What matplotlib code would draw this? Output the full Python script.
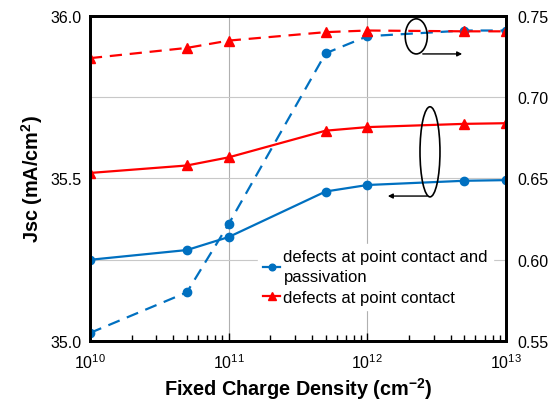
import numpy as np
import matplotlib
matplotlib.use("Agg")
import matplotlib.pyplot as plt
from matplotlib.patches import Ellipse
from matplotlib.ticker import LogLocator, NullFormatter, FormatStrFormatter

plt.rcParams['font.family'] = ['Liberation Sans', 'DejaVu Sans']
plt.rcParams['mathtext.fontset'] = 'custom'
plt.rcParams['mathtext.rm'] = 'Liberation Sans'
plt.rcParams['mathtext.bf'] = 'Liberation Sans:bold'

# fixed charge density (cm^-2)
charge = [1e10, 5e10, 1e11, 5e11, 1e12, 5e12, 1e13]

# Jsc, left axis (solid)
jsc_both = [35.25, 35.28, 35.32, 35.46, 35.48, 35.493, 35.495]
jsc_point = [35.517, 35.54, 35.565, 35.647, 35.658, 35.668, 35.67]

# right axis (dashed)
right_both = [0.555, 0.580, 0.622, 0.727, 0.7375, 0.741, 0.741]
right_point = [0.724, 0.7303, 0.7348, 0.740, 0.741, 0.7405, 0.7405]

label_both = 'defects at point contact and\npassivation'
label_point = 'defects at point contact'

blue = '#0070C0'
red = '#FF0000'

fig = plt.figure(figsize=(5.55, 4.02), dpi=100)
ax = fig.add_axes([0.162, 0.149, 0.750, 0.809])
ax2 = ax.twinx()

l1, = ax.plot(charge, jsc_both, '-o', color=blue, lw=1.6, ms=6, label=label_both)
l2, = ax.plot(charge, jsc_point, '-^', color=red, lw=1.6, ms=6.5, label=label_point)
ax2.plot(charge, right_both, '--o', color=blue, lw=1.6, ms=6, dashes=(5.5, 3.5))
ax2.plot(charge, right_point, '--^', color=red, lw=1.6, ms=6.5, dashes=(5.5, 3.5))

ax.set_xscale('log')
ax.set_xlim(1e10, 1e13)
ax.set_ylim(35.0, 36.0)
ax2.set_ylim(0.55, 0.75)

ax.set_yticks([35.0, 35.5, 36.0])
ax.set_yticks([35.25, 35.75], minor=True)
ax.yaxis.set_major_formatter(FormatStrFormatter('%.1f'))
ax2.set_yticks([0.55, 0.60, 0.65, 0.70, 0.75])
ax2.yaxis.set_major_formatter(FormatStrFormatter('%.2f'))

ax.xaxis.set_minor_locator(LogLocator(base=10, subs=np.arange(2, 10), numticks=20))
ax.xaxis.set_minor_formatter(NullFormatter())

ax.grid(True, which='major', axis='x', color='#b0b0b0', lw=0.8)
ax.grid(True, which='both', axis='y', color='#c8c8c8', lw=0.8)
ax.set_axisbelow(True)

ax.tick_params(axis='x', which='both', direction='in', top=False, labelsize=11.5, pad=8)
ax.tick_params(axis='x', which='major', length=6, width=1)
ax.tick_params(axis='x', which='minor', length=4, width=1)
ax.tick_params(axis='y', which='both', length=0, labelsize=11.5, pad=6)
ax2.tick_params(axis='y', which='both', length=0, labelsize=11.5, pad=8)

for a in (ax, ax2):
    for s in a.spines.values():
        s.set_linewidth(2)
        s.set_color('black')

ax.set_xlabel('Fixed Charge Density (cm$^{\\mathbf{-2}}$)', fontsize=14.3, fontweight='bold', labelpad=3)
ax.set_ylabel('Jsc (mA/cm$^{\\mathbf{2}}$)', fontsize=14.3, fontweight='bold', labelpad=4)

leg = ax2.legend(handles=[l1, l2], loc='upper left', bbox_to_anchor=(0.385, 0.325),
                 frameon=True, framealpha=1, edgecolor='white', fancybox=False,
                 fontsize=12, handlelength=1.0, handletextpad=0.2,
                 labelspacing=0.35, borderpad=0.3, markerscale=0.8)
for t in leg.get_texts():
    t.set_linespacing(1.45)

# annotation ellipses with arrows pointing to the axis each group belongs to
ax2.add_patch(Ellipse((0.784, 0.937), 0.053, 0.108, transform=ax2.transAxes,
                      fill=False, ec='black', lw=1.2, zorder=5))
ax2.annotate('', xy=(0.901, 0.883), xytext=(0.793, 0.883), xycoords='axes fraction',
             arrowprops=dict(arrowstyle='-|>', color='black', lw=1, mutation_scale=7))
ax2.add_patch(Ellipse((0.817, 0.582), 0.048, 0.277, transform=ax2.transAxes,
                      fill=False, ec='black', lw=1.2, zorder=5))
ax2.annotate('', xy=(0.709, 0.446), xytext=(0.817, 0.446), xycoords='axes fraction',
             arrowprops=dict(arrowstyle='-|>', color='black', lw=1, mutation_scale=7))

fig.savefig('out.png', dpi=100)
